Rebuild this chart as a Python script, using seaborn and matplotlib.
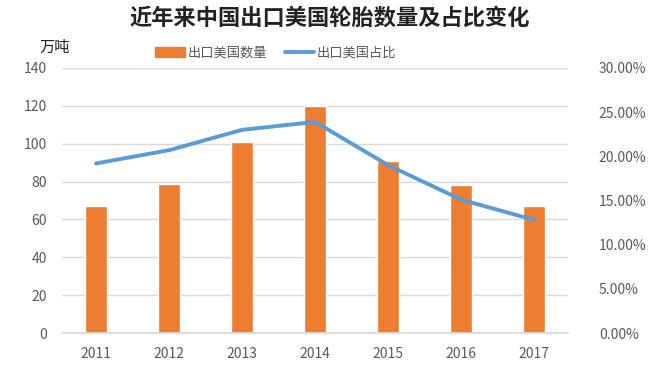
import numpy as np
import pandas as pd
import matplotlib
matplotlib.use("Agg")
import matplotlib.pyplot as plt
import seaborn as sns
from matplotlib.ticker import FuncFormatter

years = ["2011", "2012", "2013", "2014", "2015", "2016", "2017"]
volume = [67, 79, 101, 120, 91, 78, 67]          # 万吨
share = [19.2, 20.7, 23.0, 23.9, 19.0, 15.1, 12.8]  # %

sns.set_theme(style="white")
plt.rcParams["font.family"] = ["Noto Sans CJK SC", "DejaVu Sans"]

orange = "#ED7D31"
blue = "#5B9BD5"
grey = "#595959"

df = pd.DataFrame({"year": years, "volume": volume, "share": share, "pos": np.arange(len(years))})

fig = plt.figure(figsize=(6.6, 3.82), dpi=100)
ax = fig.add_axes([0.094, 0.128, 0.767, 0.694])

sns.barplot(data=df, x="year", y="volume", color=orange, width=0.3, saturation=1, ax=ax)
ax.set_ylim(0, 140)
ax.set_yticks(range(0, 141, 20))
ax.grid(axis="y", color="#D9D9D9", linewidth=1)
ax.set_axisbelow(True)
ax.set_xlabel("")
ax.set_ylabel("")
for s in ["top", "left", "right"]:
    ax.spines[s].set_visible(False)
ax.spines["bottom"].set_color("#D9D9D9")
ax.tick_params(axis="x", length=0, labelsize=10, colors=grey, pad=10)
ax.tick_params(axis="y", length=0, labelsize=10, colors=grey, pad=11)

ax2 = ax.twinx()
sns.lineplot(data=df, x="pos", y="share", color=blue, linewidth=2.8, ax=ax2)
ax2.set_ylim(0, 30)
ax2.set_yticks(range(0, 31, 5))
ax2.yaxis.set_major_formatter(FuncFormatter(lambda v, p: f"{v:.2f}%"))
ax2.set_ylabel("")
ax2.set_xlabel("")
ax2.set_xlim(ax.get_xlim())
for s in ax2.spines.values():
    s.set_visible(False)
ax2.tick_params(axis="y", length=0, labelsize=10, colors=grey, pad=22)
ax2.grid(False)

fig.text(0.5, 0.953, "近年来中国出口美国轮胎数量及占比变化", ha="center", va="center",
         fontsize=16, fontweight="bold", color="#222222")
fig.text(0.06, 0.877, "万吨", ha="left", va="center", fontsize=11, color="#222222")

handles = [plt.Rectangle((0, 0), 1, 1, color=orange),
           plt.Line2D([0], [0], color=blue, linewidth=2.8)]
fig.legend(handles, ["出口美国数量", "出口美国占比"], loc="center", bbox_to_anchor=(0.418, 0.861),
           ncol=2, frameon=False, fontsize=9.5, handlelength=2.2, columnspacing=1.4,
           labelcolor=grey, handletextpad=0.2)

fig.savefig("out.png", dpi=100)
